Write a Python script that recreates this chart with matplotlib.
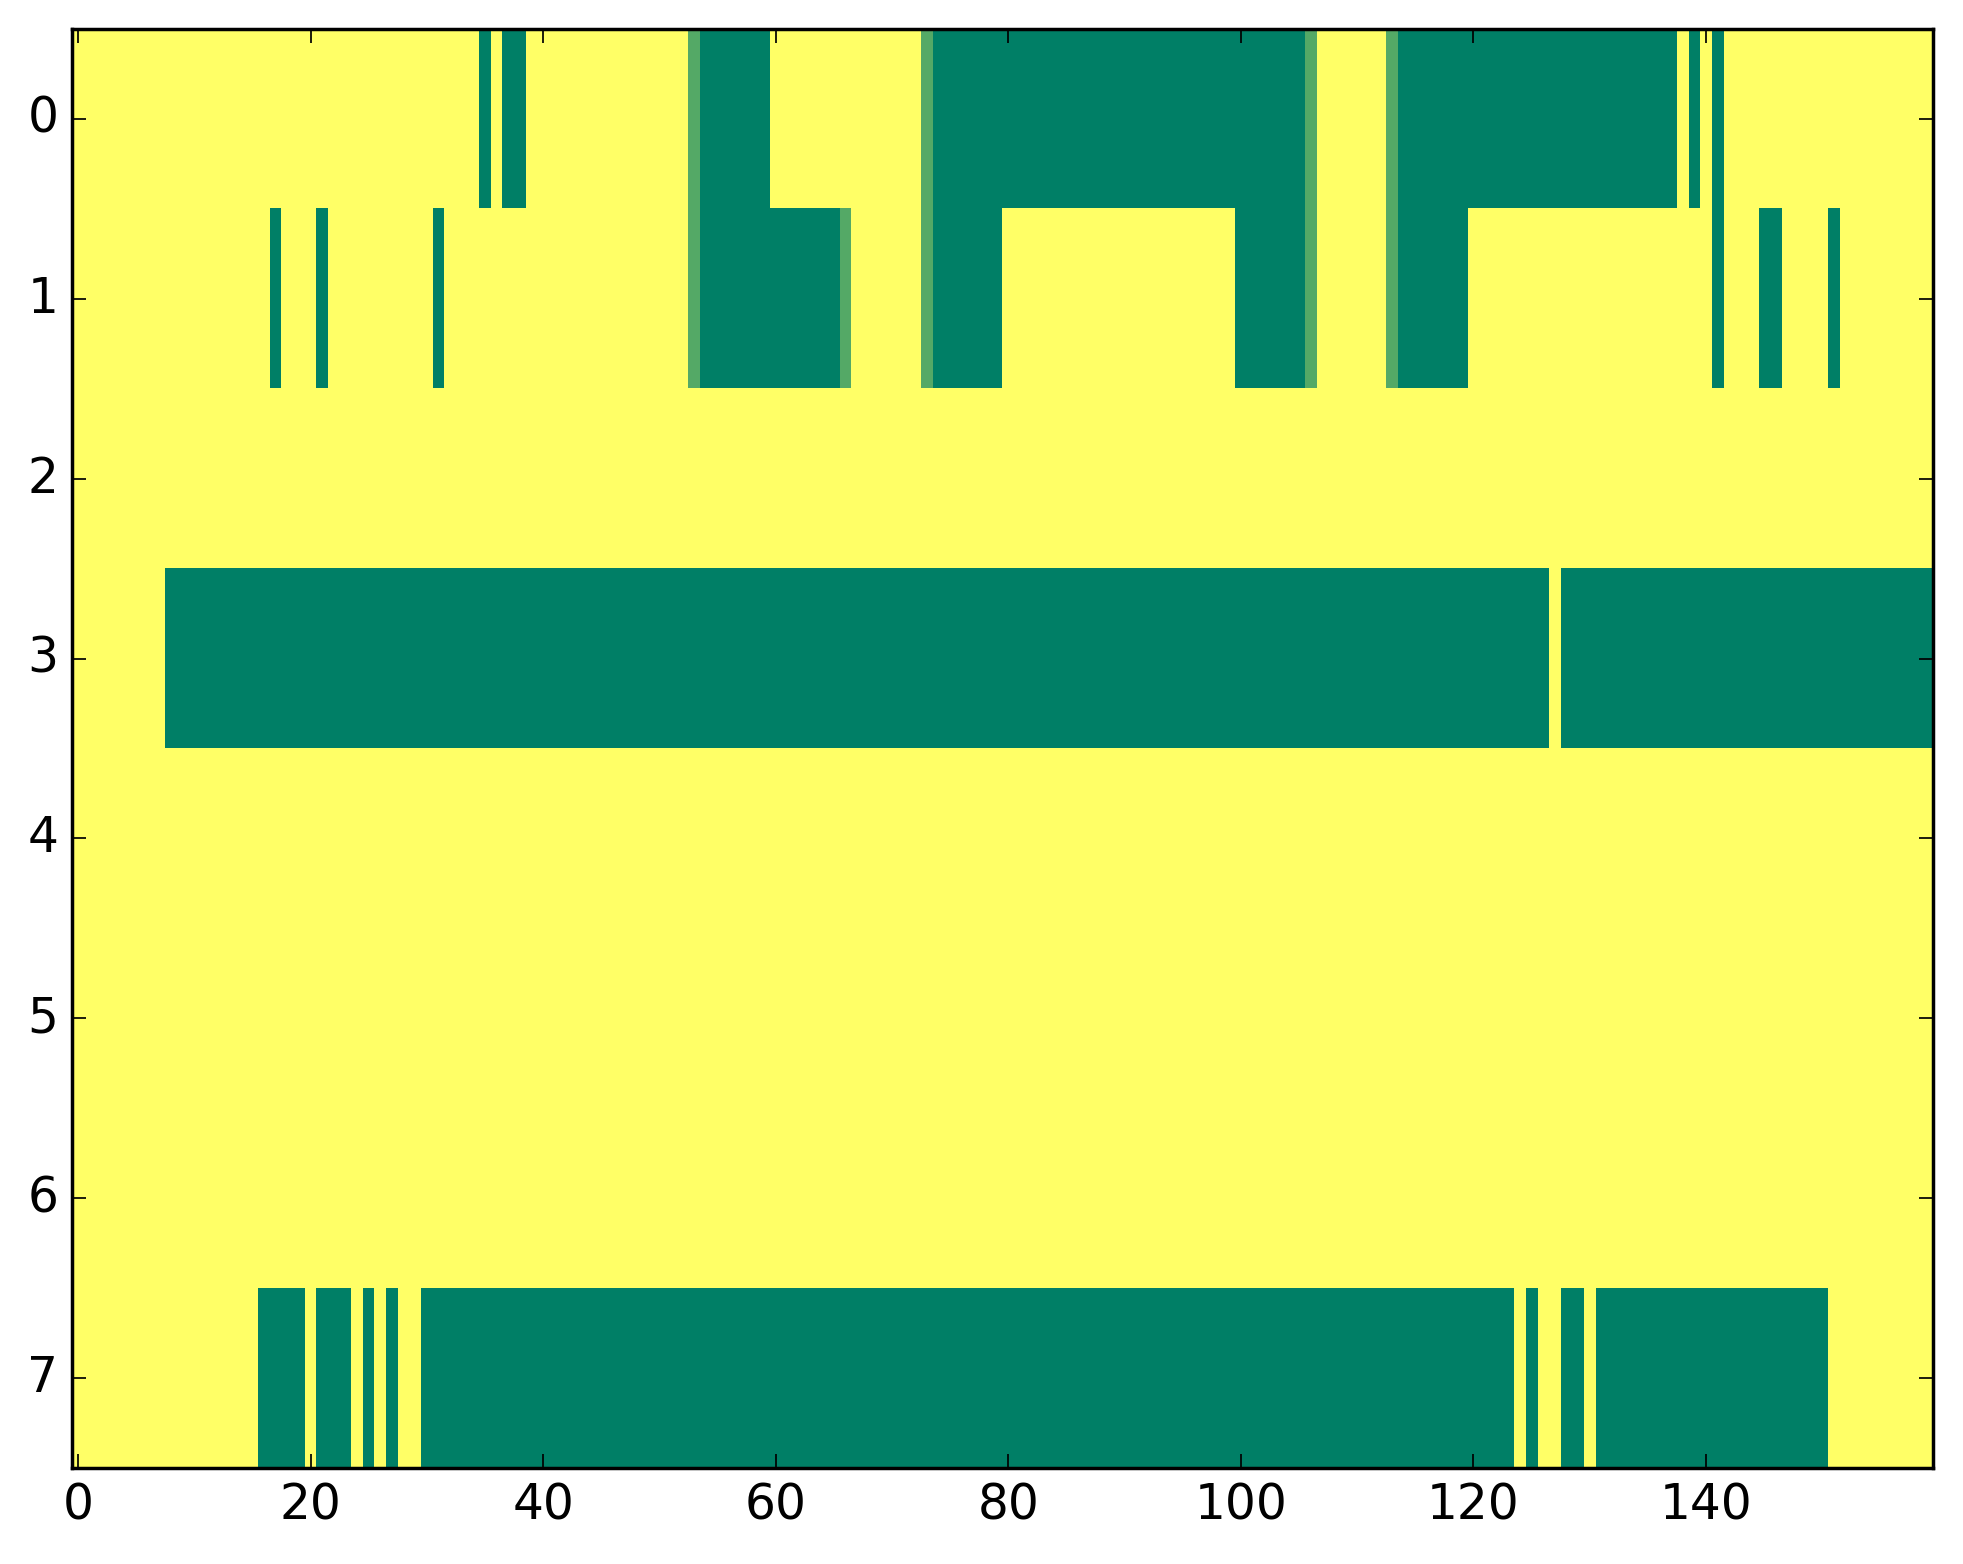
import matplotlib
matplotlib.use("Agg")
import matplotlib.pyplot as plt
import numpy as np

plt.style.use("classic")

n_rows = 8
n_cols = 160

# columns that are fully "on" (dark green) in each row
row0_on = [35, 37, 38] + list(range(54, 60)) + list(range(74, 106)) + list(range(114, 138)) + [139, 141]
row1_on = [17, 21, 31] + list(range(54, 66)) + list(range(74, 80)) + list(range(100, 106)) + list(range(114, 120)) + [141, 145, 146, 151]
row3_on = list(range(8, 127)) + list(range(128, 160))
row7_on = list(range(16, 20)) + list(range(21, 24)) + [25, 27] + list(range(30, 124)) + [125, 128, 129] + list(range(131, 151))

# columns with the partial value (lighter green)
row0_part = [53, 73, 106, 113]
row1_part = [53, 66, 73, 106, 113]
part_value = 0.67

grid = np.zeros((n_rows, n_cols))
grid[0, row0_on] = 1
grid[1, row1_on] = 1
grid[3, row3_on] = 1
grid[7, row7_on] = 1
grid[0, row0_part] = part_value
grid[1, row1_part] = part_value

fig = plt.figure(figsize=(1963 / 250, 1564 / 250), dpi=250, facecolor="white")
ax = fig.add_axes([0.0368, 0.0614, 0.9478, 0.9201])
ax.imshow(grid, cmap="summer_r", vmin=0, vmax=1, aspect="auto", interpolation="nearest")
ax.set_xticks(np.arange(0, 160, 20))
ax.set_yticks(np.arange(0, 8))
ax.set_xlim(-0.5, 159.5)
ax.set_ylim(7.5, -0.5)
ax.tick_params(labelsize=14)

fig.savefig("out.png", dpi=250, facecolor="white")
